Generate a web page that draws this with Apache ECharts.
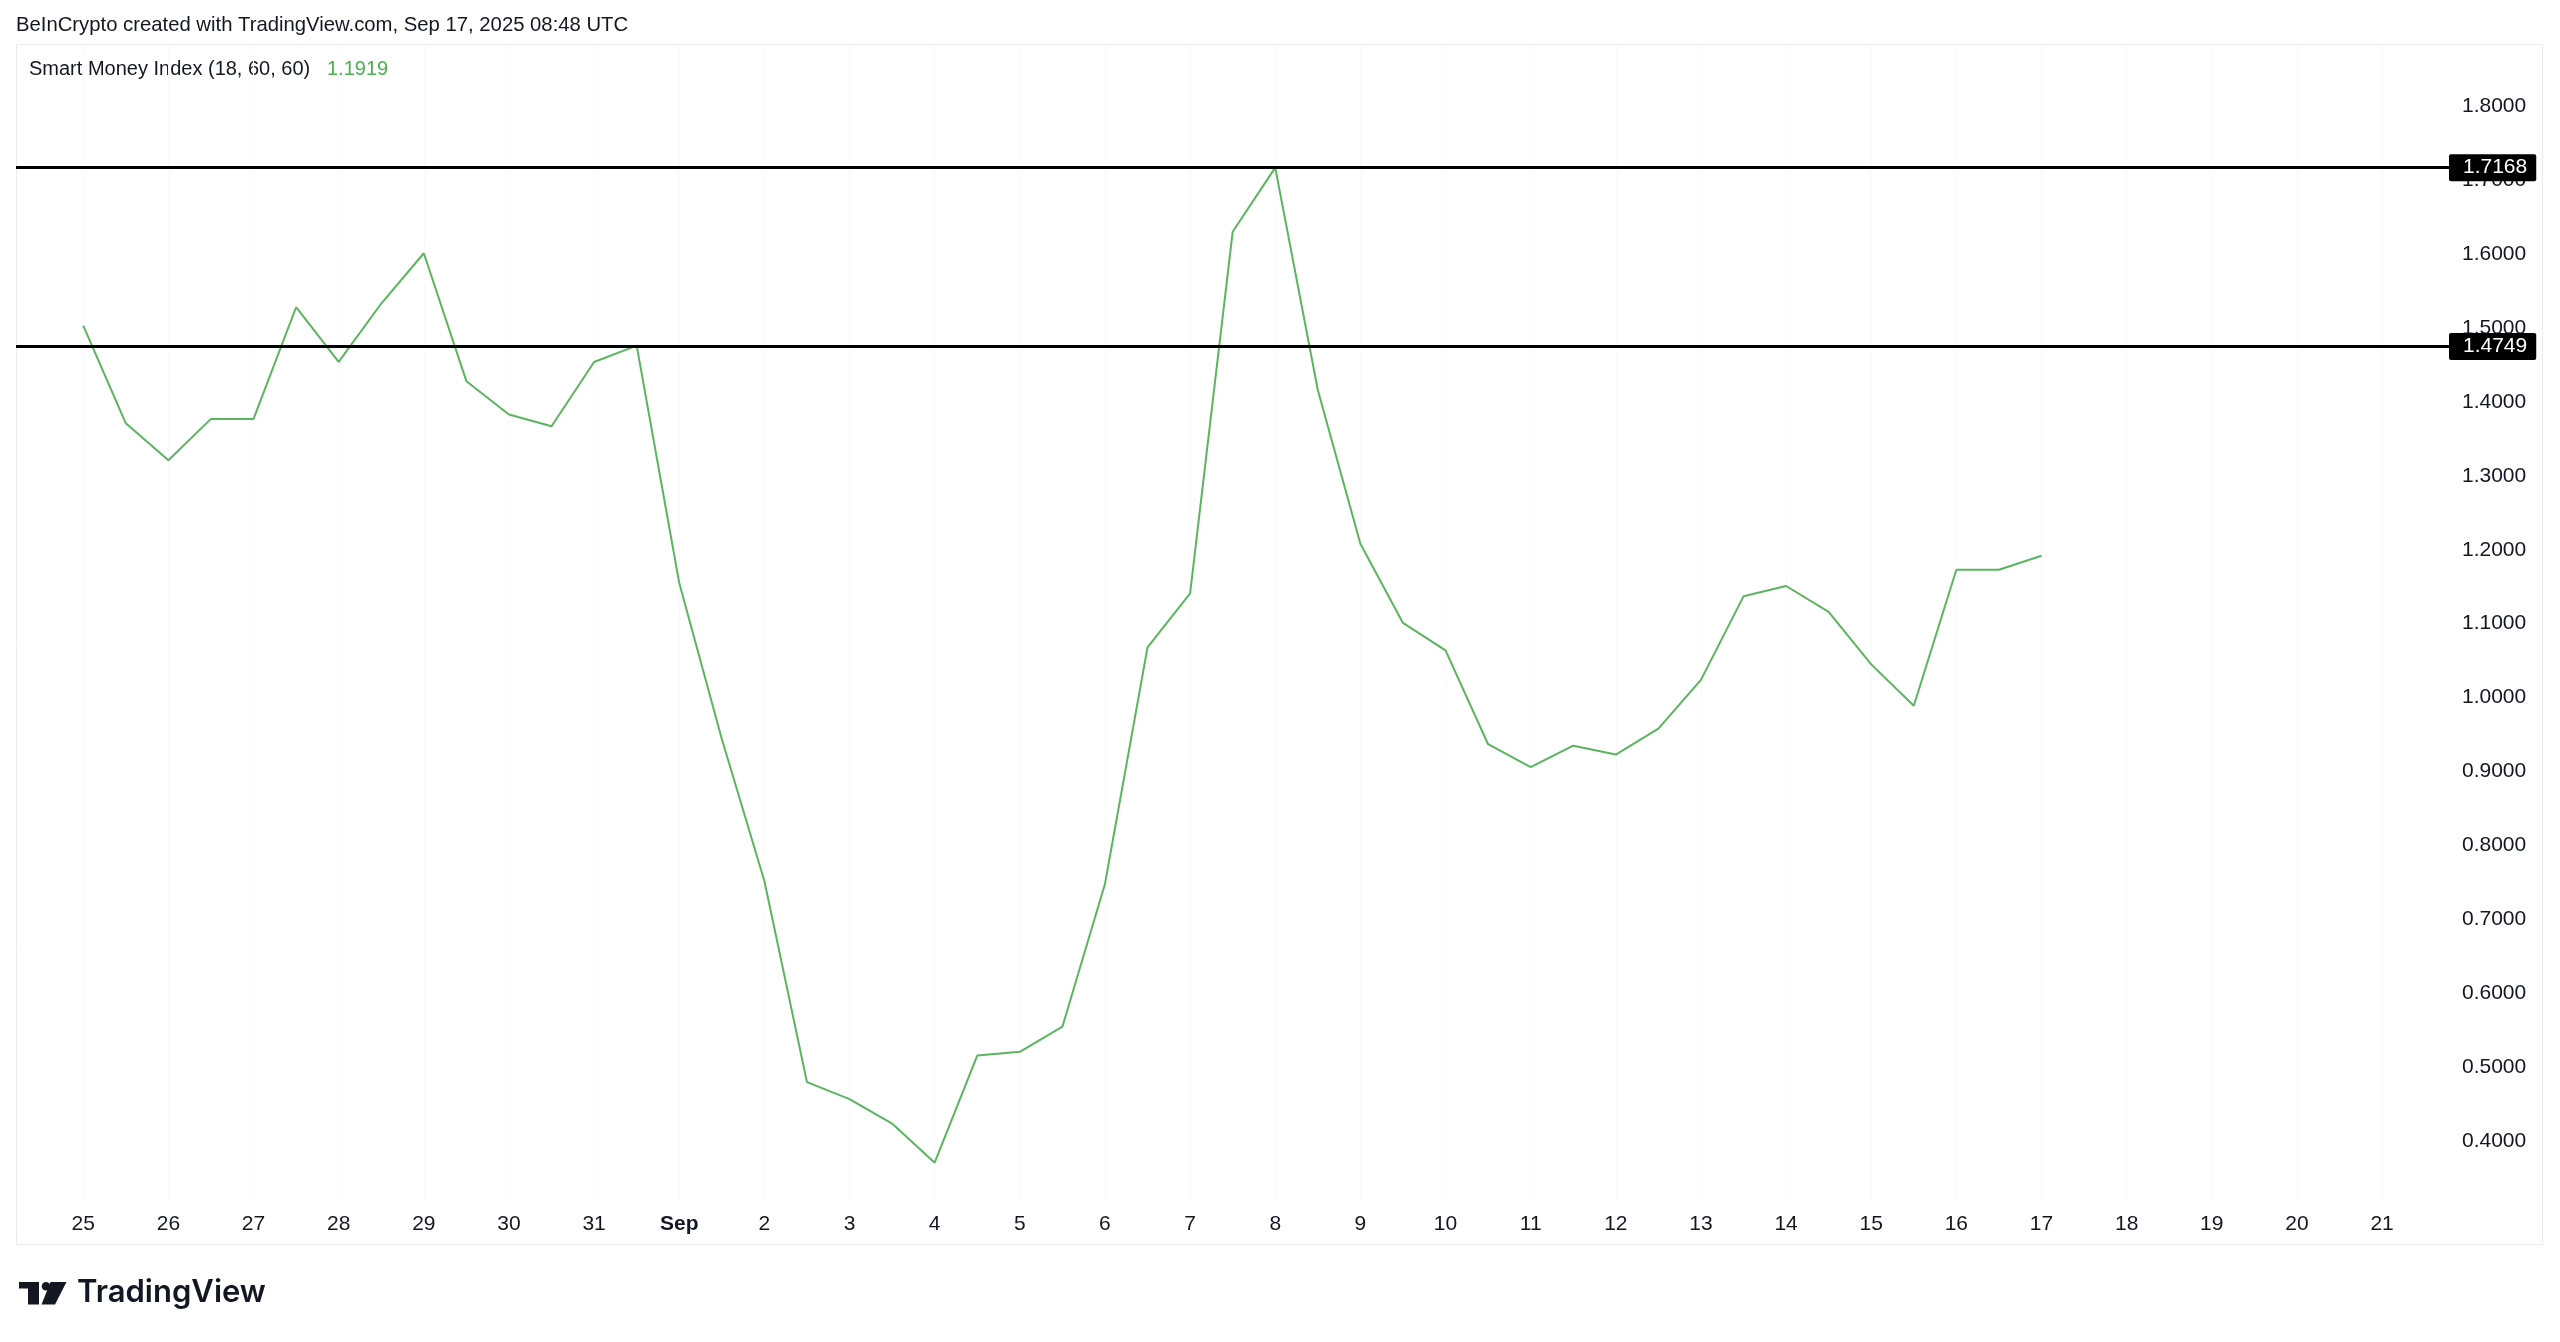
<!DOCTYPE html>
<html>
<head>
<meta charset="utf-8">
<script src="https://cdn.jsdelivr.net/npm/echarts@6/dist/echarts.min.js"></script>
<style>
html,body{margin:0;padding:0;background:#fff;}
#chart{width:2560px;height:1342px;}
</style>
</head>
<body>
<div id="chart"></div>
<script>
// ---- data ----
const headerText = 'BeInCrypto created with TradingView.com, Sep 17, 2025 08:48 UTC';
const indicatorName = 'Smart Money Index (18, 60, 60)';
// day tick labels, Aug 25 .. Sep 21
const dayLabels = ['25','26','27','28','29','30','31','Sep','2','3','4','5','6','7','8','9','10','11','12','13','14','15','16','17','18','19','20','21'];
// 12h samples starting Aug 25 00:00
const smiValues = [
  1.503, 1.371, 1.321, 1.377, 1.377, 1.528, 1.454, 1.533, 1.601, 1.428,
  1.383, 1.367, 1.454, 1.476, 1.155, 0.944, 0.752, 0.480, 0.457, 0.424,
  0.371, 0.516, 0.521, 0.555, 0.748, 1.068, 1.141, 1.630, 1.7168, 1.416,
  1.208, 1.101, 1.064, 0.937, 0.906, 0.935, 0.923, 0.958, 1.024, 1.137,
  1.151, 1.116, 1.045, 0.989, 1.173, 1.173, 1.1919
];
const levelValues = [1.7168, 1.4749];
const priceTicks = [0.4, 0.5, 0.6, 0.7, 0.8, 0.9, 1.0, 1.1, 1.2, 1.3, 1.4, 1.5, 1.6, 1.7, 1.8];
const sampleStepDays = 0.5;

// ---- build ----
const dayTicks = dayLabels.map((_, i) => i);
const seriesData = smiValues.map((v, i) => [i * sampleStepDays, v]);
const lastValue = smiValues[smiValues.length - 1];

const FONT = '"Liberation Sans", Arial, sans-serif';
const TXT = '#131722';
const GREEN = '#4caf50';
const LINE_GREEN = '#5ab55e';

const chart = echarts.init(document.getElementById('chart'), null, {renderer: 'canvas'});
chart.setOption({
  animation: false,
  backgroundColor: '#ffffff',
  textStyle: {fontFamily: FONT},
  grid: {left: 16, right: 111, top: 44, bottom: 142, containLabel: false},
  xAxis: {
    type: 'value',
    min: -0.790,
    max: 27.786,
    axisLine: {show: false},
    axisTick: {show: false, customValues: dayTicks},
    splitLine: {show: true, lineStyle: {color: '#f8f9fb', width: 1}},
    axisLabel: {
      customValues: dayTicks,
      margin: 14,
      fontSize: 21,
      color: TXT,
      fontFamily: FONT,
      formatter: v => {
        const s = dayLabels[Math.round(v)];
        return s === 'Sep' ? '{b|Sep}' : s;
      },
      rich: {b: {fontWeight: 'bold', fontSize: 21, color: TXT, fontFamily: FONT}}
    }
  },
  yAxis: {
    type: 'value',
    position: 'right',
    min: 0.3206,
    max: 1.884,
    axisLine: {show: false},
    axisTick: {show: false, customValues: priceTicks},
    splitLine: {show: false},
    axisLabel: {
      customValues: priceTicks,
      margin: 13,
      fontSize: 21,
      color: TXT,
      fontFamily: FONT,
      formatter: v => v.toFixed(4)
    }
  },
  series: [{
    type: 'line',
    data: seriesData,
    showSymbol: false,
    symbol: 'none',
    lineStyle: {color: LINE_GREEN, width: 2},
    z: 3,
    markLine: {
      silent: true,
      symbol: 'none',
      precision: 4,
      lineStyle: {color: '#000000', width: 3, type: 'solid'},
      label: {
        show: true,
        position: 'end',
        distance: 0,
        formatter: p => Number(p.value).toFixed(4),
        backgroundColor: '#000000',
        borderRadius: 2,
        color: '#ffffff',
        fontSize: 21,
        fontFamily: FONT,
        padding: [3, 9, 3, 14]
      },
      data: levelValues.map(v => ({yAxis: v}))
    }
  }],
  graphic: [
    {type: 'rect', shape: {x: 16.5, y: 44.5, width: 2526, height: 1200}, style: {fill: 'none', stroke: '#e9ebf0', lineWidth: 1}, z: -1},
    {type: 'text', left: 16, top: 15, style: {text: headerText, fill: TXT, font: '20.3px ' + FONT}},
    {type: 'text', left: 29, top: 59, style: {text: indicatorName, fill: TXT, font: '20px ' + FONT}},
    {type: 'text', left: 327, top: 59, style: {text: lastValue.toFixed(4), fill: GREEN, font: '20px ' + FONT}},
    // TradingView logo
    {type: 'group', left: 19, top: 1282, children: [
      {type: 'polygon', shape: {points: [[0,0],[20,0],[20,22.6],[9,22.6],[9,6.6],[0,6.6]]}, style: {fill: '#131722'}},
      {type: 'circle', shape: {cx: 27, cy: 4.3, r: 4.3}, style: {fill: '#131722'}},
      {type: 'polygon', shape: {points: [[31.5,0],[47.5,0],[36,22.6],[22.5,22.6]]}, style: {fill: '#131722'}}
    ]},
    {type: 'text', left: 77, top: 1277, style: {text: 'TradingView', font: '600 31px Inter, ' + FONT, fill: '#131722'}}
  ]
});
</script>
</body>
</html>
